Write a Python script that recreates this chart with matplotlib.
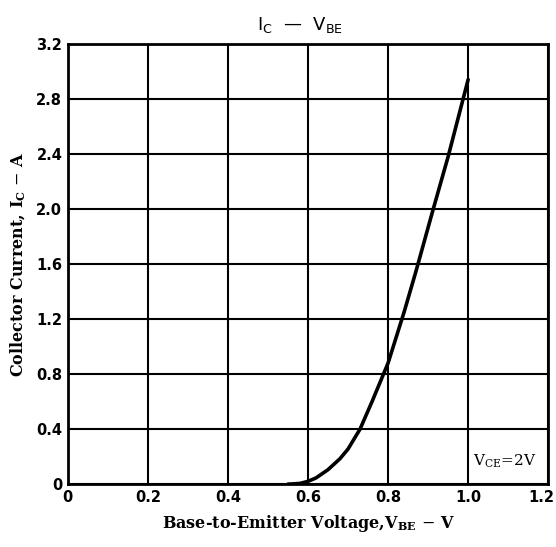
import matplotlib
matplotlib.use("Agg")
import matplotlib.pyplot as plt
import matplotlib.transforms as mtransforms

# I_C vs V_BE curve
vbe = [0.55, 0.56, 0.58, 0.60, 0.62, 0.65, 0.68, 0.70, 0.73, 0.76, 0.80, 0.84, 0.87, 0.91, 0.95, 1.00]
ic = [0.0, 0.001, 0.005, 0.02, 0.045, 0.105, 0.185, 0.255, 0.40, 0.60, 0.88, 1.25, 1.55, 1.97, 2.38, 2.94]

x_ticks = [0, 0.2, 0.4, 0.6, 0.8, 1.0, 1.2]
x_labels = ["0", "0.2", "0.4", "0.6", "0.8", "1.0", "1.2"]
y_ticks = [0, 0.4, 0.8, 1.2, 1.6, 2.0, 2.4, 2.8, 3.2]
y_labels = ["0", "0.4", "0.8", "1.2", "1.6", "2.0", "2.4", "2.8", "3.2"]


def plot_ic_vbe():
    fig = plt.figure(figsize=(5.56, 5.47), dpi=100)
    ax = fig.add_axes([0.122, 0.115, 0.864, 0.805])

    ax.plot(vbe, ic, color="black", lw=2.6, solid_capstyle="round", solid_joinstyle="round")

    ax.set_xlim(0, 1.2)
    ax.set_ylim(0, 3.2)
    ax.set_xticks(x_ticks)
    ax.set_xticklabels(x_labels)
    ax.set_yticks(y_ticks)
    ax.set_yticklabels(y_labels)
    ax.grid(True, color="black", lw=1.5)
    ax.tick_params(length=0, pad=4, labelsize=10.5)
    for lab in ax.get_xticklabels() + ax.get_yticklabels():
        lab.set_fontweight("bold")
    # last x label sits at the figure edge, nudge it in a little
    last = ax.get_xticklabels()[-1]
    last.set_transform(last.get_transform()
                       + mtransforms.ScaledTranslation(-5 / 72, 0, fig.dpi_scale_trans))
    for sp in ax.spines.values():
        sp.set_linewidth(2)

    ax.set_xlabel(r"Base-to-Emitter Voltage,V$_{\mathregular{BE}}$ $-$ V",
                  family="DejaVu Serif", fontweight="bold", fontsize=11.5, labelpad=6)
    ax.set_ylabel(r"Collector Current, I$_{\mathregular{C}}$ $-$ A",
                  family="DejaVu Serif", fontweight="bold", fontsize=11.5, labelpad=6)

    ax.text(1.17, 0.17, r"V$_{\mathregular{CE}}$=2V", family="DejaVu Serif",
            fontsize=11, ha="right", va="center",
            bbox=dict(facecolor="white", edgecolor="none", pad=1.5))

    fig.text(0.54, 0.955, r"I$_{\mathregular{C}}$  —  V$_{\mathregular{BE}}$",
             ha="center", va="center", fontsize=13)

    fig.savefig("out.png", dpi=100)


if __name__ == "__main__":
    plot_ic_vbe()
